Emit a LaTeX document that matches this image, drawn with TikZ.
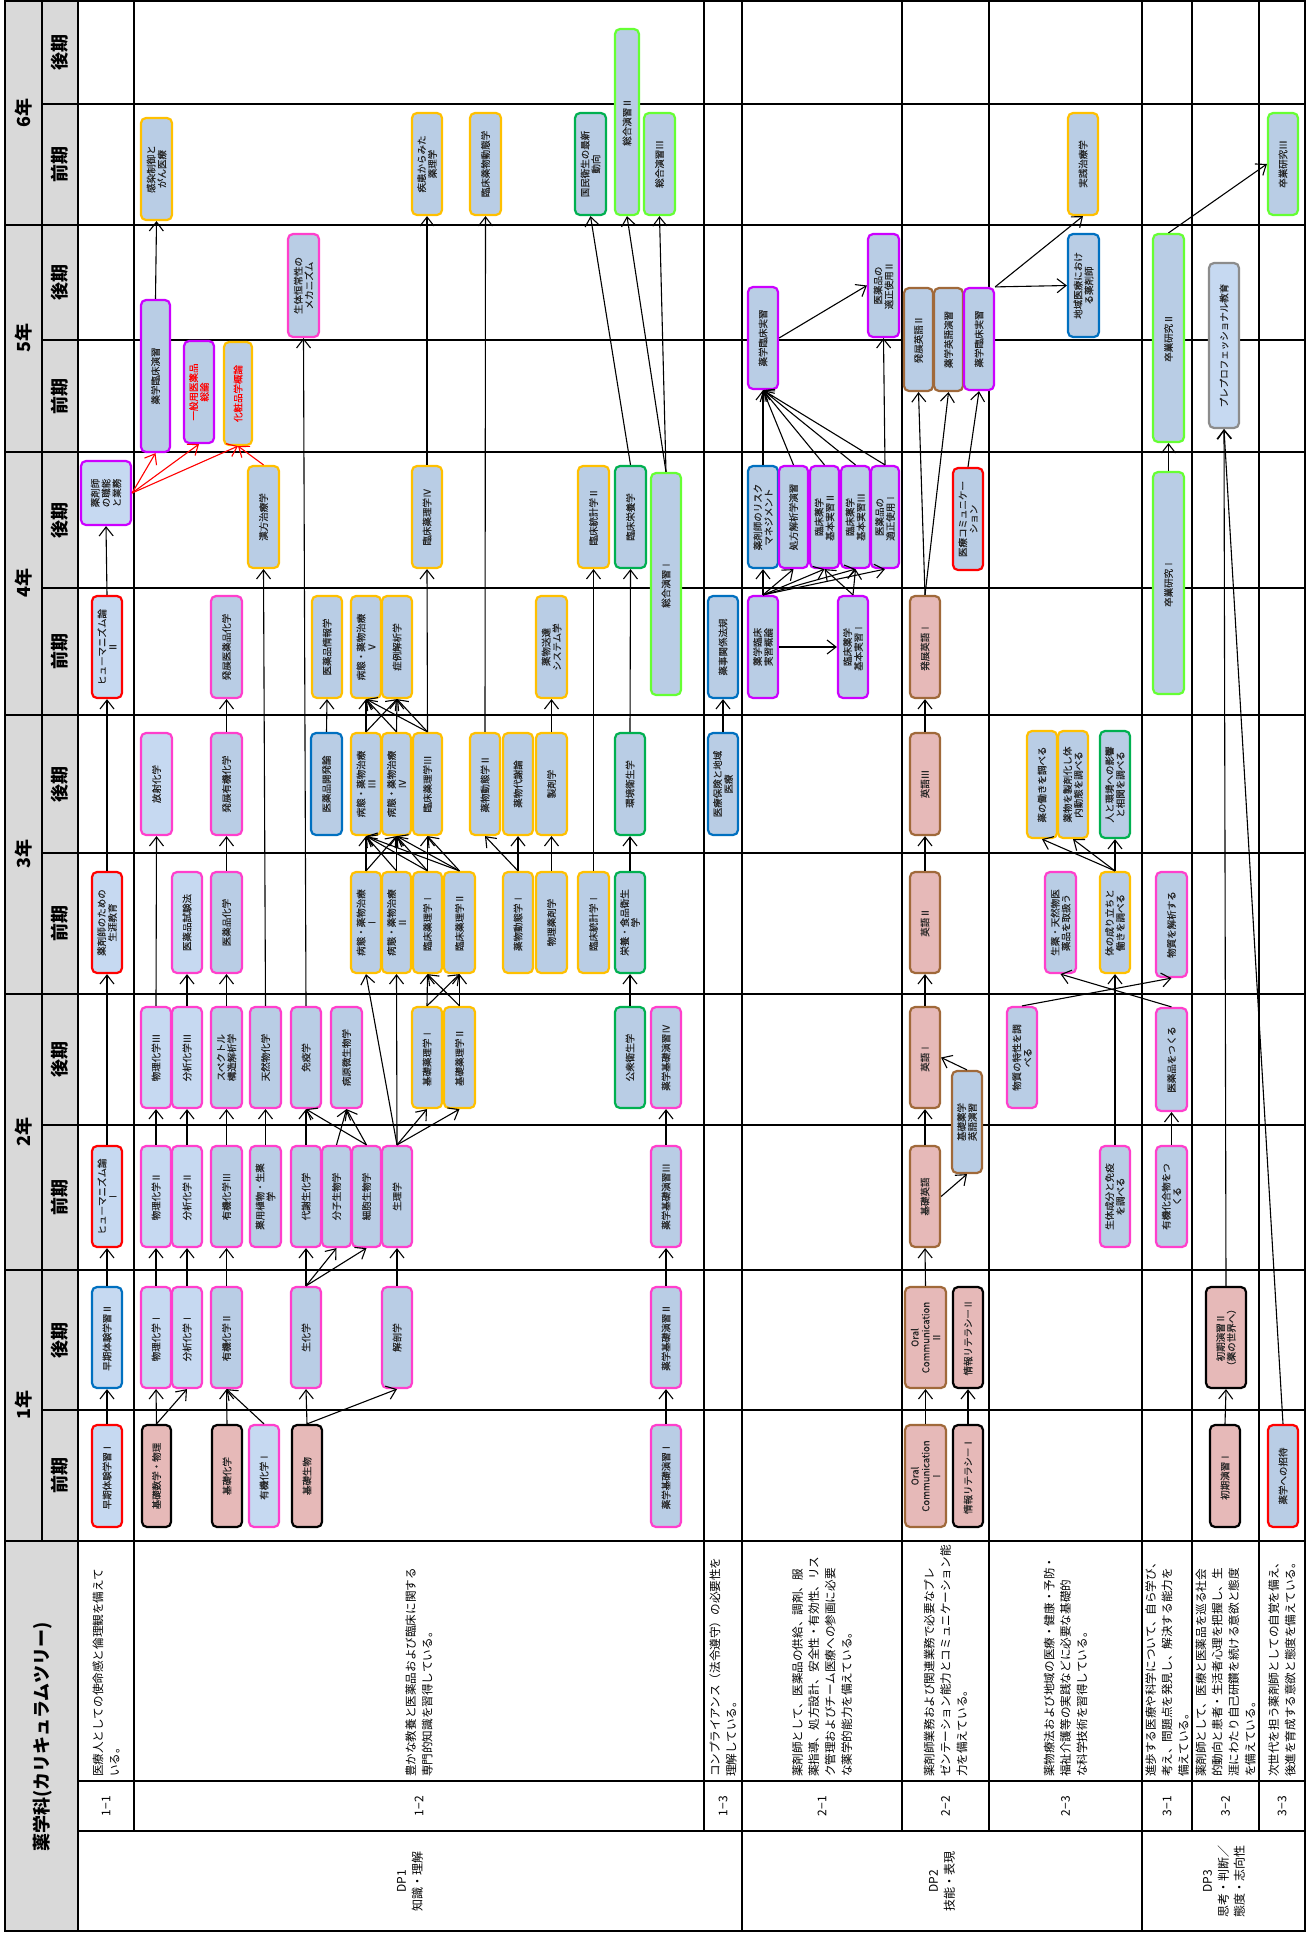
\documentclass[tikz,border=0pt]{standalone}
\usepackage{fontspec}
\setmainfont{Noto Sans CJK JP}
\newfontfamily\bxf{Noto Sans CJK JP}[FakeBold=0.4]
\usetikzlibrary{arrows.meta}
\definecolor{fillA}{HTML}{C6D9F1}
\definecolor{fillB}{HTML}{B9CDE5}
\definecolor{fillP}{HTML}{E6B9B8}
\definecolor{bRed}{HTML}{FF0000}
\definecolor{bBlue}{HTML}{0070C0}
\definecolor{bPink}{HTML}{FF3FCC}
\definecolor{bPurple}{HTML}{CC00FF}
\definecolor{bOrange}{HTML}{FFC000}
\definecolor{bGreen}{HTML}{00B050}
\definecolor{bLime}{HTML}{66FF33}
\definecolor{bBrown}{HTML}{A0693A}
\definecolor{bGray}{HTML}{8C8C8C}
\definecolor{hdr}{HTML}{D9D9D9}
% name, x1, x2, y1, y2 (image pixels), style, text
\newcommand\kbox[7]{%
  \pgfmathsetmacro\kbL{#5-#4}%
  \pgfmathsetmacro\kbT{#3-#2}%
  \pgfmathsetmacro\kbX{(#2+#3)/2}%
  \pgfmathsetmacro\kbY{(#4+#5)/2}%
  \node[kb,#6,minimum width=\kbL pt,minimum height=\kbT pt] (#1) at (\kbX,\kbY) {#7};%
}
\newcommand\kar[2]{\draw[arr] (#1.east) -- (#2.west);}
\begin{document}
\begin{tikzpicture}[x=1pt,y=-1pt,
  kb/.style={rotate=90,draw,rounded corners=5pt,line width=2.2pt,inner sep=0pt,align=center,text=black!85,font=\bxf\fontsize{9.5}{10.8}\selectfont},
  lb/.style={fill=fillA}, db/.style={fill=fillB}, pk/.style={fill=fillP},
  cR/.style={draw=bRed}, cB/.style={draw=bBlue}, cP/.style={draw=bPink},
  cV/.style={draw=bPurple}, cO/.style={draw=bOrange}, cG/.style={draw=bGreen},
  cL/.style={draw=bLime}, cN/.style={draw=bBrown}, cK/.style={draw=black},
  cY/.style={draw=bGray},
  arr/.style={-{Straight Barb[length=9pt,width=14pt]},line width=1.1pt},
  rarr/.style={arr,draw=red},
  gline/.style={line width=1.7pt},
  sHd/.style={rotate=90,font=\fontsize{18}{20}\selectfont\bfseries},
  sDesc/.style={rotate=90,anchor=west,align=left,inner sep=0pt,font=\fontsize{11.6}{16.4}\selectfont},
  sNum/.style={rotate=90,font=\fontsize{12}{14}\selectfont},
  sDP/.style={rotate=90,align=center,font=\fontsize{12}{16}\selectfont},
]
\useasboundingbox (0,0) rectangle (1307,1933);
\fill[white] (0,0) rectangle (1307,1933);
% ---------- grid ----------
\fill[hdr] (5,1) rectangle (78,1931);
\foreach \yy in {225,452,715,994,1270,1541} \draw[gline] (5,\yy) -- (1305,\yy);
\foreach \yy in {104,340,588,853,1125,1410} \draw[gline] (42,\yy) -- (1305,\yy);
\draw[gline] (78,1781) -- (1305,1781);
\draw[gline] (78,1831) -- (1305,1831);
\draw[gline] (42,1) -- (42,1541);
\draw[gline] (78,1) -- (78,1931);
\foreach \xx in {134,704,902,989,1192,1259} \draw[gline] (\xx,1) -- (\xx,1831);
\foreach \xx in {742,1142} \draw[gline] (\xx,1) -- (\xx,1931);
\draw[gline] (5,1) rectangle (1305,1931);
% ---------- header ----------
\node[sHd] (y6) at (23.5,113) {6年};
\node[sHd] (y5) at (23.5,338) {5年};
\node[sHd] (y4) at (23.5,583) {4年};
\node[sHd] (y3) at (23.5,854) {3年};
\node[sHd] (y2) at (23.5,1132) {2年};
\node[sHd] (y1) at (23.5,1405) {1年};
\node[sHd] (s6b) at (60,52) {後期};
\node[sHd] (s6a) at (60,164) {前期};
\node[sHd] (s5b) at (60,282) {後期};
\node[sHd] (s5a) at (60,396) {前期};
\node[sHd] (s4b) at (60,520) {後期};
\node[sHd] (s4a) at (60,651) {前期};
\node[sHd] (s3b) at (60,784) {後期};
\node[sHd] (s3a) at (60,923) {前期};
\node[sHd] (s2b) at (60,1059) {後期};
\node[sHd] (s2a) at (60,1197) {前期};
\node[sHd] (s1b) at (60,1340) {後期};
\node[sHd] (s1a) at (60,1475) {前期};
\node[sHd] (title) at (43,1737) {薬学科(カリキュラムツリー)};
% ---------- DP / numbers / descriptions ----------
\node[sDP] (dp1) at (410,1881) {DP1\\知識・理解};
\node[sDP] (dp2) at (942,1881) {DP2\\技能・表現};
\node[sDP] (dp3) at (1224,1881) {DP3\\思考・判断／\\態度・志向性};
\node[sNum] (lab11) at (106,1806) {1−1};
\node[sNum] (lab12) at (419,1806) {1−2};
\node[sNum] (lab13) at (723,1806) {1−3};
\node[sNum] (lab21) at (822,1806) {2−1};
\node[sNum] (lab22) at (945.5,1806) {2−2};
\node[sNum] (lab23) at (1065.5,1806) {2−3};
\node[sNum] (lab31) at (1167,1806) {3−1};
\node[sNum] (lab32) at (1225.5,1806) {3−2};
\node[sNum] (lab33) at (1282,1806) {3−3};
\node[sDesc] (dsc11) at (106,1777) {医療人としての使命感と倫理観を備えて\\いる。};
\node[sDesc] (dsc12) at (419,1777) {豊かな教養と医薬品および臨床に関する\\専門的知識を習得している。};
\node[sDesc] (dsc13) at (723,1777) {コンプライアンス（法令遵守）の必要性を\\理解している。};
\node[sDesc] (dsc21) at (822,1777) {薬剤師として、医薬品の供給、調剤、服\\薬指導、処方設計、安全性・有効性、リス\\ク管理およびチーム医療への参画に必要\\な薬学的能力を備えている。};
\node[sDesc] (dsc22) at (945.5,1777) {薬剤師業務および関連業務で必要なプレ\\ゼンテーション能力とコミュニケーション能\\力を備えている。};
\node[sDesc] (dsc23) at (1065.5,1777) {薬物療法および地域の医療・健康・予防・\\福祉介護等の実践などに必要な基礎的\\な科学技術を習得している。};
\node[sDesc] (dsc31) at (1167,1777) {進歩する医療や科学について、自ら学び、\\考え、問題点を発見し、解決する能力を\\備えている。};
\node[sDesc] (dsc32) at (1225.5,1777) {薬剤師として、医療と医薬品を巡る社会\\的動向と患者・生活者心理を把握し、生\\涯にわたり自己研鑽を続ける意欲と態度\\を備えている。};
\node[sDesc] (dsc33) at (1282,1777) {次世代を担う薬剤師としての自覚を備え、\\後進を育成する意欲と態度を備えている。};
% ---------- boxes: row 1-1 ----------
\kbox{a1}{92}{122}{1425}{1527}{cR,lb}{早期体験学習Ⅰ}
\kbox{a2}{92}{122}{1287}{1388}{cB,lb}{早期体験学習Ⅱ}
\kbox{a3}{92}{122}{1146}{1247}{cR,lb}{ヒューマニズム論\\Ⅰ}
\kbox{a4}{92}{122}{872}{973}{cR,lb}{薬剤師のための\\生涯教育}
\kbox{a5}{92}{122}{596}{698}{cR,lb}{ヒューマニズム論\\Ⅱ}
\kbox{a6}{81}{131}{461}{525}{cV,lb}{薬剤師\\の職能\\と業務}
% ---------- row 1-2 ----------
\kbox{k1}{142}{171}{1425}{1527}{cK,pk}{基礎数学・物理}
\kbox{k2}{212}{242}{1425}{1527}{cK,pk}{基礎化学}
\kbox{k3}{249}{279}{1425}{1527}{cP,lb}{有機化学Ⅰ}
\kbox{k4}{292}{322}{1425}{1527}{cK,pk}{基礎生物}
\kbox{k5}{651}{681}{1425}{1527}{cP,db}{薬学基礎演習Ⅰ}
\kbox{m1}{141}{171}{1287}{1388}{cP,lb}{物理化学Ⅰ}
\kbox{m2}{172}{202}{1287}{1388}{cP,lb}{分析化学Ⅰ}
\kbox{m3}{211}{242}{1287}{1388}{cP,db}{有機化学Ⅱ}
\kbox{m4}{291}{321}{1287}{1388}{cP,db}{生化学}
\kbox{m5}{382}{412}{1287}{1388}{cP,db}{解剖学}
\kbox{m6}{651}{681}{1287}{1388}{cP,db}{薬学基礎演習Ⅱ}
\kbox{n1}{141}{171}{1146}{1247}{cP,lb}{物理化学Ⅱ}
\kbox{n2}{172}{202}{1146}{1247}{cP,lb}{分析化学Ⅱ}
\kbox{n3}{211}{242}{1146}{1247}{cP,db}{有機化学Ⅲ}
\kbox{n4}{250}{281}{1146}{1247}{cP,db}{薬用植物・生薬\\学}
\kbox{n5}{291}{321}{1146}{1247}{cP,db}{代謝生化学}
\kbox{n6}{322}{351}{1146}{1247}{cP,db}{分子生物学}
\kbox{n7}{352}{381}{1146}{1247}{cP,db}{細胞生物学}
\kbox{n8}{382}{412}{1146}{1247}{cP,db}{生理学}
\kbox{n9}{651}{681}{1146}{1247}{cP,db}{薬学基礎演習Ⅲ}
\kbox{p1}{141}{171}{1007}{1108}{cP,lb}{物理化学Ⅲ}
\kbox{p2}{172}{202}{1007}{1108}{cP,lb}{分析化学Ⅲ}
\kbox{p3}{211}{242}{1007}{1108}{cP,db}{スペクトル\\構造解析学}
\kbox{p4}{250}{281}{1007}{1108}{cP,db}{天然物化学}
\kbox{p5}{291}{321}{1007}{1108}{cP,db}{免疫学}
\kbox{p6}{331}{362}{1007}{1108}{cP,db}{病原微生物学}
\kbox{p7}{412}{442}{1007}{1108}{cO,db}{基礎薬理学Ⅰ}
\kbox{p8}{444}{475}{1007}{1108}{cO,db}{基礎薬理学Ⅱ}
\kbox{p9}{615}{645}{1007}{1108}{cG,db}{公衆衛生学}
\kbox{p10}{651}{681}{1007}{1108}{cP,db}{薬学基礎演習Ⅳ}
\kbox{q1}{172}{202}{872}{973}{cP,lb}{医薬品試験法}
\kbox{q2}{211}{242}{872}{973}{cP,db}{医薬品化学}
\kbox{q3}{351}{381}{872}{973}{cO,db}{病態・薬物治療\\Ⅰ}
\kbox{q4}{382}{411}{872}{973}{cO,db}{病態・薬物治療\\Ⅱ}
\kbox{q5}{413}{442}{872}{973}{cO,db}{臨床薬理学Ⅰ}
\kbox{q6}{444}{475}{872}{973}{cO,db}{臨床薬理学Ⅱ}
\kbox{q7}{503}{533}{872}{973}{cO,db}{薬物動態学Ⅰ}
\kbox{q8}{536}{567}{872}{973}{cO,db}{物理薬剤学}
\kbox{q9}{578}{609}{872}{973}{cO,db}{臨床統計学Ⅰ}
\kbox{q10}{615}{645}{872}{973}{cG,db}{栄養・食品衛生\\学}
\kbox{r1}{141}{172}{733}{835}{cP,lb}{放射化学}
\kbox{r2}{211}{242}{733}{835}{cP,db}{発展有機化学}
\kbox{r3}{311}{342}{733}{835}{cB,db}{医薬品開発論}
\kbox{r4}{351}{381}{733}{835}{cO,db}{病態・薬物治療\\Ⅲ}
\kbox{r5}{382}{411}{733}{835}{cO,db}{病態・薬物治療\\Ⅳ}
\kbox{r6}{413}{442}{733}{835}{cO,db}{臨床薬理学Ⅲ}
\kbox{r7}{470}{500}{733}{835}{cO,db}{薬物動態学Ⅱ}
\kbox{r8}{503}{533}{733}{835}{cO,db}{薬物代謝論}
\kbox{r9}{536}{567}{733}{835}{cO,db}{製剤学}
\kbox{r10}{615}{645}{733}{835}{cG,db}{環境衛生学}
\kbox{s1}{211}{242}{596}{698}{cP,db}{発展医薬品化学}
\kbox{s2}{312}{342}{596}{698}{cO,db}{医薬品情報学}
\kbox{s3}{351}{381}{596}{698}{cO,db}{病態・薬物治療\\Ⅴ}
\kbox{s4}{382}{412}{596}{698}{cO,db}{症例解析学}
\kbox{s5}{536}{567}{596}{698}{cO,db}{薬物送達\\システム学}
\kbox{t1}{248}{279}{466}{568}{cO,db}{漢方治療学}
\kbox{t2}{412}{442}{466}{568}{cO,db}{臨床薬理学Ⅳ}
\kbox{t3}{578}{609}{466}{568}{cO,db}{臨床統計学Ⅱ}
\kbox{t4}{615}{646}{466}{568}{cG,db}{臨床栄養学}
\kbox{t5}{651}{681}{473}{695}{cL,db}{総合演習Ⅰ}
\kbox{u1}{141}{170}{300}{452}{cV,db}{薬学臨床演習}
\kbox{u2}{184}{214}{341}{443}{cV,db,text=red}{一般用医薬品\\総論}
\kbox{u3}{224}{252}{342}{445}{cO,db,text=red}{化粧品学概論}
\kbox{u4}{288}{319}{234}{337}{cP,db}{生体恒常性の\\メカニズム}
\kbox{w1}{141}{172}{118}{220}{cO,db}{感染制御と\\がん医療}
\kbox{w2}{412}{442}{113}{215}{cO,db}{疾患からみた\\薬理学}
\kbox{w3}{470}{501}{113}{215}{cO,db}{臨床薬物動態学}
\kbox{w4}{575}{606}{113}{215}{cG,db}{国民衛生の最新\\動向}
\kbox{w5}{615}{639}{29}{215}{cL,db}{総合演習Ⅱ}
\kbox{w6}{644}{675}{113}{215}{cL,db}{総合演習Ⅲ}
% ---------- row 1-3 ----------
\kbox{c1}{708}{738}{733}{835}{cB,db}{医療保険と地域\\医療}
\kbox{c2}{708}{738}{596}{698}{cB,db}{薬事関係法規}
% ---------- row 2-1 ----------
\kbox{d1}{748}{778}{596}{698}{cV,db}{薬学臨床\\実習概論}
\kbox{d2}{838}{868}{596}{698}{cV,db}{臨床薬学\\基本実習Ⅰ}
\kbox{d3}{748}{778}{466}{568}{cB,db}{薬剤師のリスク\\マネジメント}
\kbox{d4}{779}{808}{466}{568}{cV,db}{処方解析学演習}
\kbox{d5}{810}{839}{466}{568}{cV,db}{臨床薬学\\基本実習Ⅱ}
\kbox{d6}{841}{870}{466}{568}{cV,db}{臨床薬学\\基本実習Ⅲ}
\kbox{d7}{871}{899}{466}{568}{cV,db}{医薬品の\\適正使用Ⅰ}
\kbox{d8}{748}{778}{287}{389}{cV,db}{薬学臨床実習}
\kbox{d9}{868}{899}{234}{337}{cV,db}{医薬品の\\適正使用Ⅱ}
% ---------- row 2-2 ----------
\kbox{e1}{905}{946}{1425}{1527}{cN,pk}{Oral\\Communication\\Ⅰ}
\kbox{e2}{953}{983}{1425}{1527}{cK,pk}{情報リテラシーⅠ}
\kbox{e3}{905}{946}{1287}{1388}{cN,pk}{Oral\\Communication\\Ⅱ}
\kbox{e4}{953}{983}{1287}{1388}{cK,pk}{情報リテラシーⅡ}
\kbox{e5}{910}{940}{1146}{1247}{cN,pk}{基礎英語}
\kbox{e6}{952}{982}{1071}{1173}{cN,db}{基礎薬学\\英語演習}
\kbox{e7}{910}{940}{1007}{1108}{cN,pk}{英語Ⅰ}
\kbox{e8}{910}{940}{872}{973}{cN,pk}{英語Ⅱ}
\kbox{e9}{910}{940}{733}{835}{cN,pk}{英語Ⅲ}
\kbox{e10}{910}{940}{596}{698}{cN,pk}{発展英語Ⅰ}
\kbox{e11}{953}{983}{468}{570}{cR,db}{医療コミュニケー\\ション}
\kbox{e12}{904}{933}{288}{391}{cN,db}{発展英語Ⅱ}
\kbox{e13}{934}{963}{288}{391}{cN,db}{薬学英語演習}
\kbox{e14}{964}{994}{288}{390}{cV,db}{薬学臨床実習}
% ---------- row 2-3 ----------
\kbox{f1}{1100}{1130}{1146}{1247}{cP,db}{生体成分と免疫\\を調べる}
\kbox{f2}{1156}{1187}{1146}{1247}{cP,db}{有機化合物をつ\\くる}
\kbox{f3}{1007}{1037}{1007}{1108}{cP,db}{物質の特性を調\\べる}
\kbox{f4}{1156}{1187}{1008}{1111}{cP,db}{医薬品をつくる}
\kbox{f5}{1045}{1076}{872}{973}{cP,db}{生薬・天然物医\\薬品を取扱う}
\kbox{f6}{1100}{1130}{872}{973}{cO,db}{体の成り立ちと\\働きを調べる}
\kbox{f7}{1156}{1187}{872}{977}{cP,db}{物質を解析する}
\kbox{f8}{1027}{1057}{731}{838}{cO,db}{薬の働きを調べる}
\kbox{f9}{1058}{1088}{731}{838}{cO,db}{薬物を製剤化し体\\内動態を調べる}
\kbox{f10}{1100}{1130}{731}{838}{cG,db}{人と環境への影響\\と相関を調べる}
\kbox{f11}{1068}{1099}{234}{337}{cB,db}{地域医療におけ\\る薬剤師}
\kbox{f12}{1068}{1098}{113}{215}{cO,db}{実践治療学}
% ---------- row 3-x ----------
\kbox{g1}{1153}{1184}{472}{694}{cL,db}{卒業研究Ⅰ}
\kbox{g2}{1153}{1184}{234}{442}{cL,db}{卒業研究Ⅱ}
\kbox{g3}{1268}{1298}{113}{215}{cL,db}{卒業研究Ⅲ}
\kbox{h1}{1210}{1240}{1425}{1527}{cK,pk}{初期演習Ⅰ}
\kbox{h2}{1206}{1246}{1287}{1388}{cK,pk}{初期演習Ⅱ\\（薬の世界へ）}
\kbox{h3}{1209}{1239}{263}{428}{cY,lb}{プレプロフェッショナル教育}
\kbox{i1}{1268}{1298}{1425}{1527}{cR,db}{薬学への招待}
% ---------- connectors ----------
\kar{a1}{a2}\kar{a2}{a3}\kar{a3}{a4}\kar{a4}{a5}\kar{a5}{a6}
\draw[rarr] (a6.south) -- (u1.west);
\draw[rarr] (a6.south) -- (u2.west);
\draw[rarr] (a6.south) -- (u3.west);
\draw[rarr] (t1.east) -- (u3.west);
\kar{k1}{m1}\kar{k1}{m2}\kar{k2}{m3}\kar{k3}{m3}\kar{k4}{m4}\kar{k4}{m5}\kar{k5}{m6}
\kar{m1}{n1}\kar{m2}{n2}\kar{m3}{n3}\kar{m4}{n5}\kar{m4}{n6}\kar{m4}{n7}\kar{m5}{n8}\kar{m6}{n9}
\kar{n1}{p1}\kar{n2}{p2}\kar{n3}{p3}\kar{n4}{p4}\kar{n5}{p5}\kar{n6}{p6}\kar{n7}{p5}\kar{n7}{p6}
\kar{n8}{p7}\kar{n8}{p8}\kar{n8}{q3}\kar{n8}{q4}\kar{n9}{p10}
\kar{p1}{r1}\kar{p2}{q1}\kar{p3}{q2}\kar{p4}{t1}\kar{p5}{u4}
\kar{p7}{q5}\kar{p7}{q6}\kar{p8}{q5}\kar{p8}{q6}\kar{p9}{q10}
\kar{q2}{r2}\kar{q3}{r4}\kar{q3}{r5}\kar{q4}{r4}\kar{q4}{r5}
\kar{q5}{r4}\kar{q5}{r5}\kar{q5}{r6}\kar{q6}{r4}\kar{q6}{r5}\kar{q6}{r6}
\kar{q7}{r7}\kar{q7}{r8}\kar{q8}{r9}\kar{q9}{t3}\kar{q10}{r10}
\kar{r2}{s1}\kar{r3}{s2}\kar{r4}{s3}\kar{r4}{s4}\kar{r5}{s3}\kar{r5}{s4}\kar{r6}{s3}\kar{r6}{s4}
\kar{r6}{t2}\kar{r7}{w3}\kar{r9}{s5}\kar{r10}{t4}
\kar{t2}{w2}\kar{t4}{w4}\kar{t5}{w5}\kar{t5}{w6}\kar{u1}{w1}
\kar{c1}{c2}
\kar{d1}{d3}\kar{d1}{d4}\kar{d1}{d5}\kar{d1}{d6}\kar{d1}{d7}
\draw[arr] (d1.south) -- (d2.north);
\kar{d2}{d5}\kar{d2}{d6}
\kar{d3}{d8}\kar{d4}{d8}\kar{d5}{d8}\kar{d6}{d8}\kar{d7}{d8}\kar{d7}{d9}
\draw[arr] (d8.south) -- (d9.north);
\kar{e1}{e3}\kar{e2}{e4}\kar{e3}{e5}
\draw[arr] (e5.south) -- (e6.west);
\draw[arr] (e6.east) -- (e7.south);
\kar{e5}{e7}\kar{e7}{e8}\kar{e8}{e9}\kar{e9}{e10}\kar{e10}{e12}\kar{e10}{e13}\kar{e11}{e14}
\draw[arr] (e14.south east) -- (f11.north);
\draw[arr] (e14.south east) -- (f12.west);
\kar{f2}{f4}\kar{f1}{f6}\kar{f3}{f7}\kar{f4}{f5}\kar{f6}{f8}\kar{f6}{f9}\kar{f6}{f10}
\kar{g1}{g2}
\draw[arr] (g2.east) -- (g3.north);
\kar{h1}{h2}\kar{h2}{h3}\kar{i1}{h3}
\end{tikzpicture}
\end{document}
